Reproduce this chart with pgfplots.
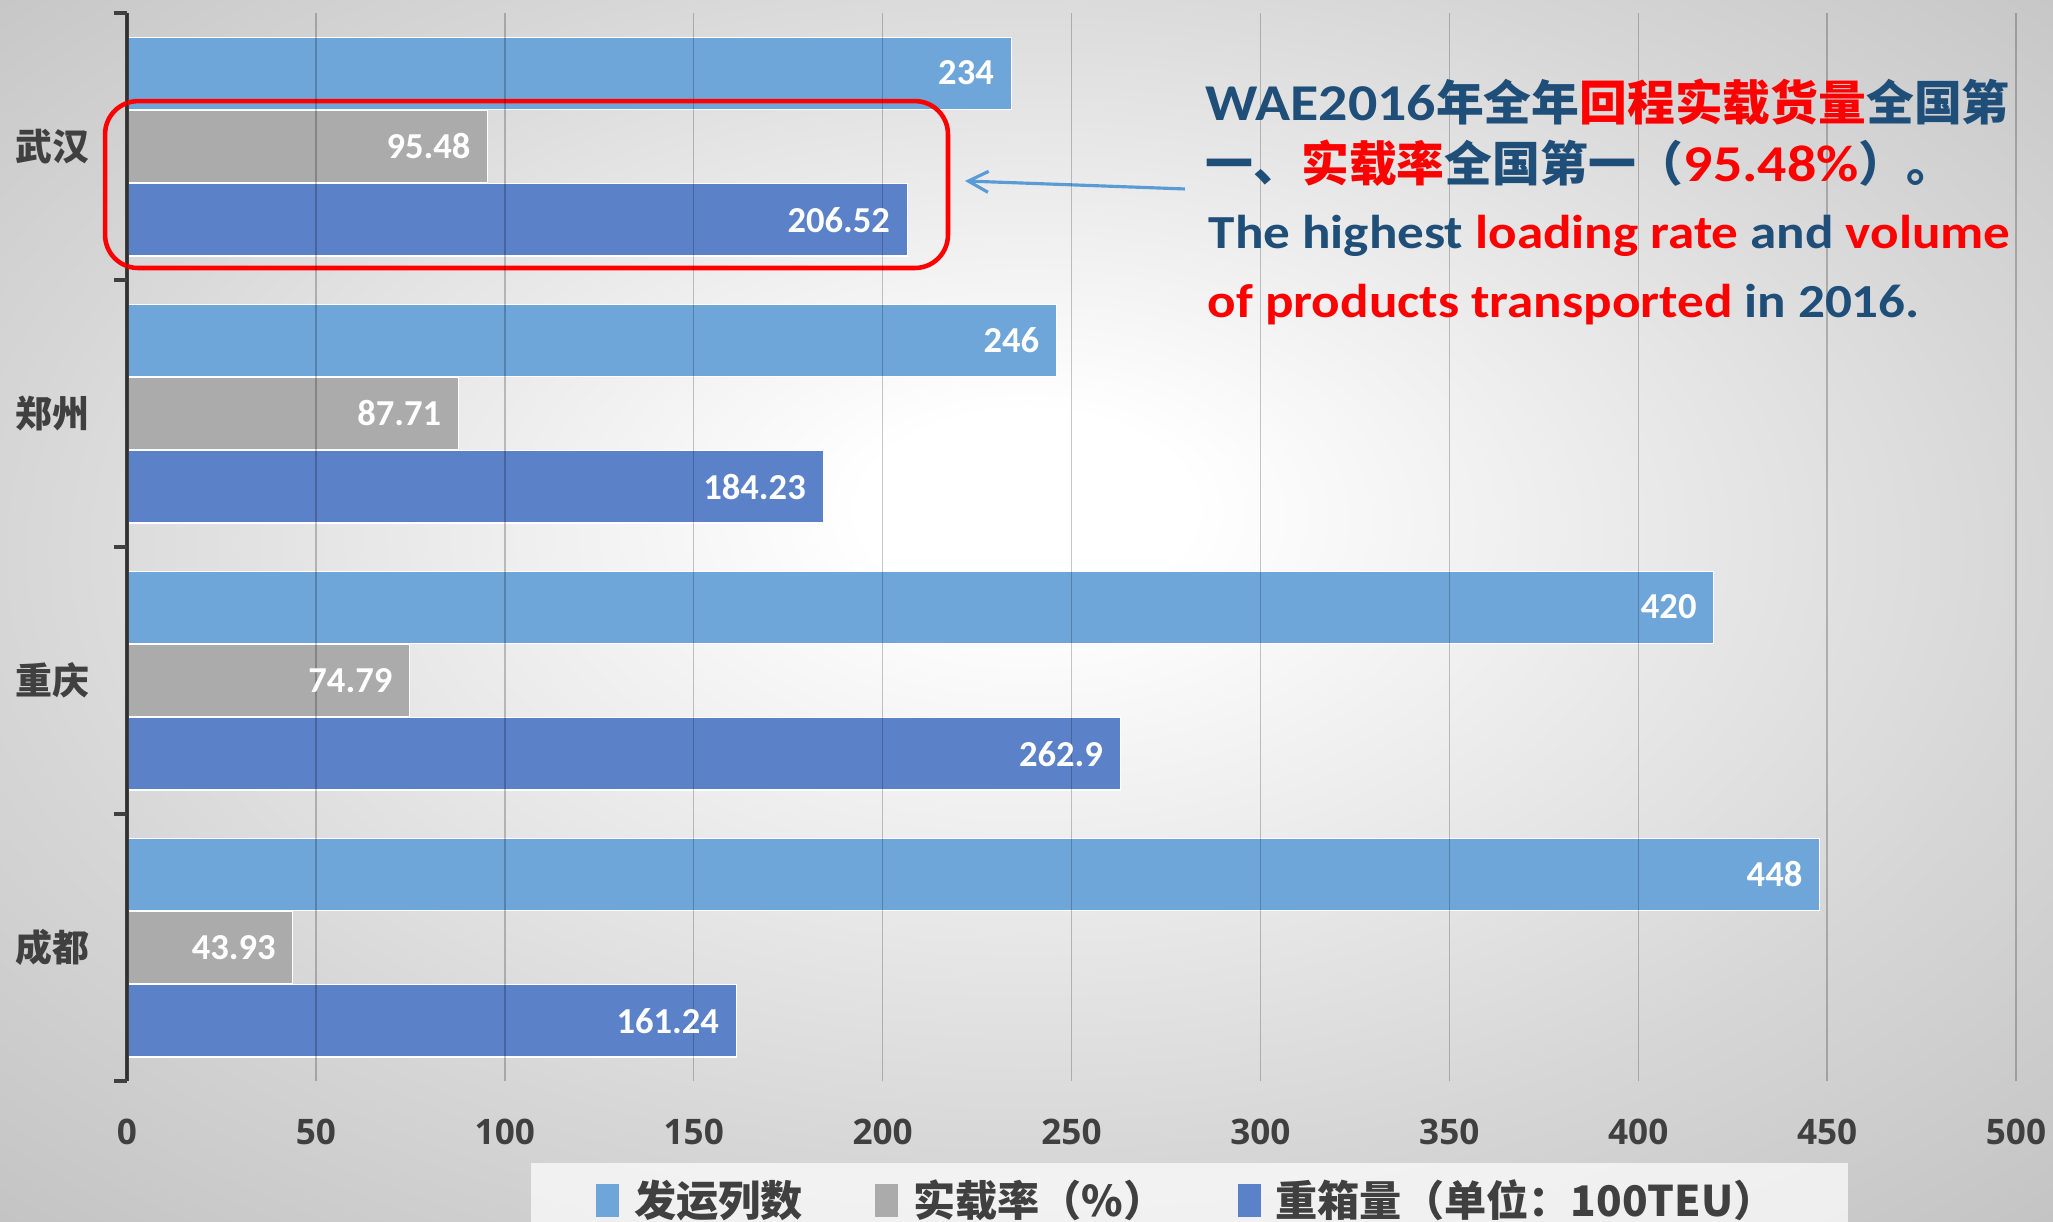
\documentclass[border=0pt]{standalone}
\usepackage{fontspec}
\usepackage{pgfplots}
\pgfplotsset{compat=1.18}
\usetikzlibrary{arrows.meta}
\setmainfont{Carlito}
\newfontfamily\cjk{Noto Sans CJK SC}
\newfontfamily\osans{Open Sans}
\newfontfamily\annlat{Carlito}[FakeStretch=1.12]

\definecolor{c1}{HTML}{6FA6DA}
\definecolor{c2}{HTML}{ABABAB}
\definecolor{c3}{HTML}{5B82C8}
\definecolor{txt}{HTML}{404040}
\definecolor{navy}{HTML}{1F4E79}
\definecolor{arrowblue}{HTML}{5B9BD5}
\definecolor{annred}{HTML}{FF0000}

\pgfdeclareradialshading{bgshade}{\pgfpoint{0bp}{4.5bp}}{color(0bp)=(white); color(4bp)=(white); color(25bp)=(black!16); color(36bp)=(black!23); color(50bp)=(black!23)}

\newcommand{\lat}[1]{{\annlat\bfseries\fontsize{13.5}{16}\selectfont #1}}
\newcommand{\latb}[1]{{\annlat\bfseries\fontsize{14.7}{16}\selectfont #1}}
\newcommand{\zh}[1]{{\cjk\bfseries\fontsize{13.6}{16}\selectfont #1}}

\begin{document}
\begin{tikzpicture}[x=1cm,y=1cm]
\shade[shading=bgshade] (0,0) rectangle (20.53,12.21);
\begin{axis}[
  at={(1.27cm,1.40cm)}, anchor=south west,
  scale only axis, width=18.89cm, height=10.68cm,
  xbar, bar width=0.27,
  xmin=0, xmax=500, ymin=-0.5, ymax=3.5,
  xtick={0,50,...,500},
  ytick={0,1,2,3},
  yticklabels={成都,重庆,郑州,武汉},
  extra y ticks={-0.5,0.5,1.5,2.5,3.5},
  extra y tick labels={},
  extra y tick style={major tick length=1.3mm, tick align=outside},
  major tick length=0pt,
  tick style={draw=txt, line width=1pt},
  ytick pos=left,
  axis line style={draw=none},
  xmajorgrids,
  grid style={black, opacity=0.22, line width=0.4pt},
  axis on top,
  yticklabel style={font=\cjk\bfseries\fontsize{10.5}{12}\selectfont, text=txt, xshift=-2.5mm},
  xticklabel style={font=\osans\bfseries\fontsize{10}{12}\selectfont, text=txt, yshift=-2.6mm},
  /pgf/number format/assume math mode=true,
  point meta=x,
  nodes near coords,
  nodes near coords style={anchor=east, xshift=-0.5mm, font=\bfseries\fontsize{10.4}{12}\selectfont, text=white},
  legend columns=-1,
  legend style={at={(0.5625,-0.0758)}, anchor=north, draw=none, fill=white, fill opacity=0.7, text opacity=1,
    font=\cjk\bfseries\fontsize{12}{14}\selectfont, text=txt, inner xsep=6.5mm, inner ysep=1.0mm,
    /tikz/every odd column/.append style={column sep=0.8mm},
    /tikz/every even column/.append style={column sep=6.5mm}},
  legend image code/.code={\draw[#1, draw=none, fill opacity=1] (0mm,-1.65mm) rectangle (2.3mm,1.65mm);},
  clip=false,
]
\addplot[fill=c1, draw=white, line width=0.3pt, bar shift=0.275] coordinates {(448,0) (420,1) (246,2) (234,3)};
\addplot[fill=c2, draw=white, line width=0.3pt, bar shift=0] coordinates {(43.93,0) (74.79,1) (87.71,2) (95.48,3)};
\addplot[fill=c3, draw=white, line width=0.3pt, bar shift=-0.275] coordinates {(161.24,0) (262.9,1) (184.23,2) (206.52,3)};
\legend{发运列数,实载率（\%）,重箱量（单位：100TEU）}
\draw[txt, line width=1pt] (axis cs:0,-0.5) -- (axis cs:0,3.5);
\draw[red, line width=1.3pt, rounded corners=3.3mm] (axis cs:-5.8,2.545) rectangle (axis cs:217.3,3.170);
\draw[arrowblue, line width=0.9pt, -{Straight Barb[length=2mm,width=2.1mm]}] (axis cs:280,2.841) -- (axis cs:221.8,2.871);
\end{axis}
\node[anchor=base west, inner sep=0, text=navy] at (12.05,11.00) {\latb{WAE2016}\zh{年全年}\textcolor{annred}{\zh{回程实载货量}}\zh{全国第}};
\node[anchor=base west, inner sep=0, text=navy] at (12.05,10.39) {\zh{一、}\textcolor{annred}{\zh{实载率}}\zh{全国第一（}\textcolor{annred}{\latb{95.48\%}}\zh{）。}};
\node[anchor=base west, inner sep=0, text=navy] at (12.08,9.72) {\lat{The highest \textcolor{annred}{loading rate} and \textcolor{annred}{volume}}};
\node[anchor=base west, inner sep=0, text=navy] at (12.07,9.03) {\lat{\textcolor{annred}{of products transported} in 2016.}};
\pgfresetboundingbox
\path[use as bounding box] (0,0) rectangle (20.53,12.21);
\end{tikzpicture}
\end{document}
